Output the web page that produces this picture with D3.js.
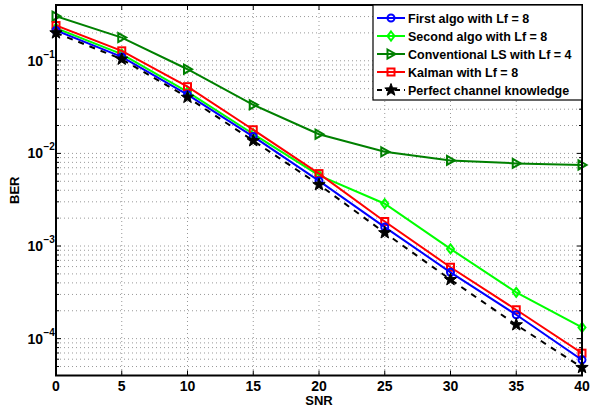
<!DOCTYPE html>
<html><head><meta charset="utf-8">
<script src="https://cdn.jsdelivr.net/npm/d3@7"></script>
<style>body{margin:0;background:#fff;} svg{display:block;font-family:"Liberation Sans",Arial,sans-serif;}</style>
</head><body>
<svg id="c" width="591" height="408"></svg>
<script>
const snr = [0, 5, 10, 15, 20, 25, 30, 35, 40];
const firstAlgo   = [0.212, 0.110, 0.0430, 0.0152, 0.00504, 0.00160, 0.00052, 0.000181, 0.000059];
const secondAlgo  = [0.225, 0.118, 0.0462, 0.0162, 0.00580, 0.00286, 0.00093, 0.000316, 0.000132];
const convLS      = [0.303, 0.178, 0.0810, 0.0335, 0.0161, 0.0104, 0.0084, 0.0078, 0.0075];
const kalman      = [0.240, 0.128, 0.0525, 0.0180, 0.00605, 0.00184, 0.00059, 0.000205, 0.0000697];
const perfect     = [0.200, 0.104, 0.0403, 0.0137, 0.00459, 0.00139, 0.000434, 0.000141, 0.0000488];
const seriesNames = ["First algo with Lf = 8","Second algo with Lf = 8","Conventional LS with Lf = 4","Kalman with Lf = 8","Perfect channel knowledge"];
const xTicks = [0,5,10,15,20,25,30,35,40];
const yTickExps = [-1,-2,-3,-4];

const series = [
  {name: seriesNames[0], values: firstAlgo,  color: "#0000ff", marker: "circle", dash: null},
  {name: seriesNames[1], values: secondAlgo, color: "#00ff00", marker: "diamond", dash: null},
  {name: seriesNames[2], values: convLS,     color: "#008000", marker: "triangle", dash: null},
  {name: seriesNames[3], values: kalman,     color: "#ff0000", marker: "square", dash: null},
  {name: seriesNames[4], values: perfect,    color: "#000000", marker: "star", dash: "6,6"}
];

const L = 56, R = 582, T = 5, B = 375.5;
const x = d3.scaleLinear().domain([0,40]).range([L,R]);
const y = d3.scaleLog().domain([4e-5, 0.4]).range([B,T]);
const svg = d3.select("#c");

// grid
const g = svg.append("g");
xTicks.forEach(t => {
  if (t===0 || t===40) return;
  g.append("line").attr("x1",x(t)).attr("x2",x(t)).attr("y1",T).attr("y2",B)
    .attr("stroke","#999").attr("stroke-width",1).attr("stroke-dasharray","1,3");
});
const minor = [];
for (let e=-5; e<=0; e++) for (let m=1; m<=9; m++) {
  const v = m*Math.pow(10,e);
  if (v>=4e-5*1.0001 && v<=0.4*0.9999) minor.push({v, major: m===1});
}
minor.forEach(d => {
  g.append("line").attr("x1",L).attr("x2",R).attr("y1",y(d.v)).attr("y2",y(d.v))
    .attr("stroke","#999").attr("stroke-width",1).attr("stroke-dasharray","1,3");
  const len = d.major ? 5 : 3;
  g.append("line").attr("x1",L).attr("x2",L+len).attr("y1",y(d.v)).attr("y2",y(d.v)).attr("stroke","#000").attr("stroke-width",1);
  g.append("line").attr("x1",R).attr("x2",R-len).attr("y1",y(d.v)).attr("y2",y(d.v)).attr("stroke","#000").attr("stroke-width",1);
});
xTicks.forEach(t => {
  g.append("line").attr("x1",x(t)).attr("x2",x(t)).attr("y1",B).attr("y2",B-5).attr("stroke","#000");
  g.append("line").attr("x1",x(t)).attr("x2",x(t)).attr("y1",T).attr("y2",T+5).attr("stroke","#000");
});

// lines
const line = d3.line().x((d,i)=>x(snr[i])).y(d=>y(d));
svg.append("clipPath").attr("id","cp").append("rect").attr("x",L).attr("y",T).attr("width",R-L).attr("height",B-T);

function drawMarker(sel, type, color, cx, cy) {
  const sw = 2;
  if (type==="circle") sel.append("circle").attr("cx",cx).attr("cy",cy).attr("r",3.5).attr("fill","none").attr("stroke",color).attr("stroke-width",sw);
  else if (type==="square") sel.append("rect").attr("x",cx-3.5).attr("y",cy-3.5).attr("width",7).attr("height",7).attr("fill","none").attr("stroke",color).attr("stroke-width",sw);
  else if (type==="diamond") sel.append("path").attr("d",`M${cx},${cy-4.5}L${cx+3.5},${cy}L${cx},${cy+4.5}L${cx-3.5},${cy}Z`).attr("fill","none").attr("stroke",color).attr("stroke-width",sw);
  else if (type==="triangle") sel.append("path").attr("d",`M${cx-3.5},${cy-4.5}L${cx+4.5},${cy}L${cx-3.5},${cy+4.5}Z`).attr("fill","none").attr("stroke",color).attr("stroke-width",sw);
  else if (type==="star") {
    const pts=[]; for(let k=0;k<10;k++){const r=k%2?2.7:6.5; const a=-Math.PI/2+k*Math.PI/5; pts.push([cx+r*Math.cos(a), cy+r*Math.sin(a)]);}
    sel.append("path").attr("d","M"+pts.map(p=>p.join(",")).join("L")+"Z").attr("fill",color).attr("stroke",color).attr("stroke-width",1);
  }
}

const order = [2,1,3,0,4];
order.forEach(k => {
  const s = series[k];
  const gg = svg.append("g");
  gg.append("path").attr("d", line(s.values)).attr("fill","none").attr("stroke",s.color)
    .attr("stroke-width",2).attr("stroke-dasharray", s.dash).attr("clip-path","url(#cp)");
  s.values.forEach((v,i) => drawMarker(gg, s.marker, s.color, x(snr[i]), y(v)));
});

// frame
svg.append("rect").attr("x",L).attr("y",T).attr("width",R-L).attr("height",B-T).attr("fill","none").attr("stroke","#000").attr("stroke-width",2);

// tick labels
xTicks.forEach(t => {
  svg.append("text").attr("x",x(t)).attr("y",391).attr("text-anchor","middle")
    .attr("font-size",14).attr("font-weight","bold").text(t);
});
yTickExps.forEach(e => {
  svg.append("text").attr("x",43).attr("y",y(Math.pow(10,e))+5).attr("text-anchor","end")
    .attr("font-size",14).attr("font-weight","bold").text("10");
  svg.append("text").attr("x",43.5).attr("y",y(Math.pow(10,e))-3).attr("font-size",10).attr("font-weight","bold").text("\u2212"+(-e));
});
svg.append("text").attr("x",x(20)).attr("y",405).attr("text-anchor","middle").attr("font-size",13).attr("font-weight","bold").text("SNR");
svg.append("text").attr("transform",`translate(19,${(T+B)/2}) rotate(-90)`).attr("text-anchor","middle").attr("font-size",13).attr("font-weight","bold").text("BER");

// legend
const lx = 373, ly = 5, lw = 209, lh = 95;
const lg = svg.append("g");
lg.append("rect").attr("x",lx).attr("y",ly).attr("width",lw).attr("height",lh).attr("fill","#fff").attr("stroke","#000").attr("stroke-width",1.2);
series.forEach((s,i) => {
  const cy = ly + 13 + i*18;
  lg.append("line").attr("x1",lx+4).attr("x2",lx+32).attr("y1",cy).attr("y2",cy).attr("stroke",s.color).attr("stroke-width",2).attr("stroke-dasharray", s.dash ? "5,4" : null);
  drawMarker(lg, s.marker, s.color, lx+18, cy);
  lg.append("text").attr("x",lx+35).attr("y",cy+4.5).attr("font-size",12.5).attr("font-weight","bold").text(s.name);
});
</script>
</body></html>
